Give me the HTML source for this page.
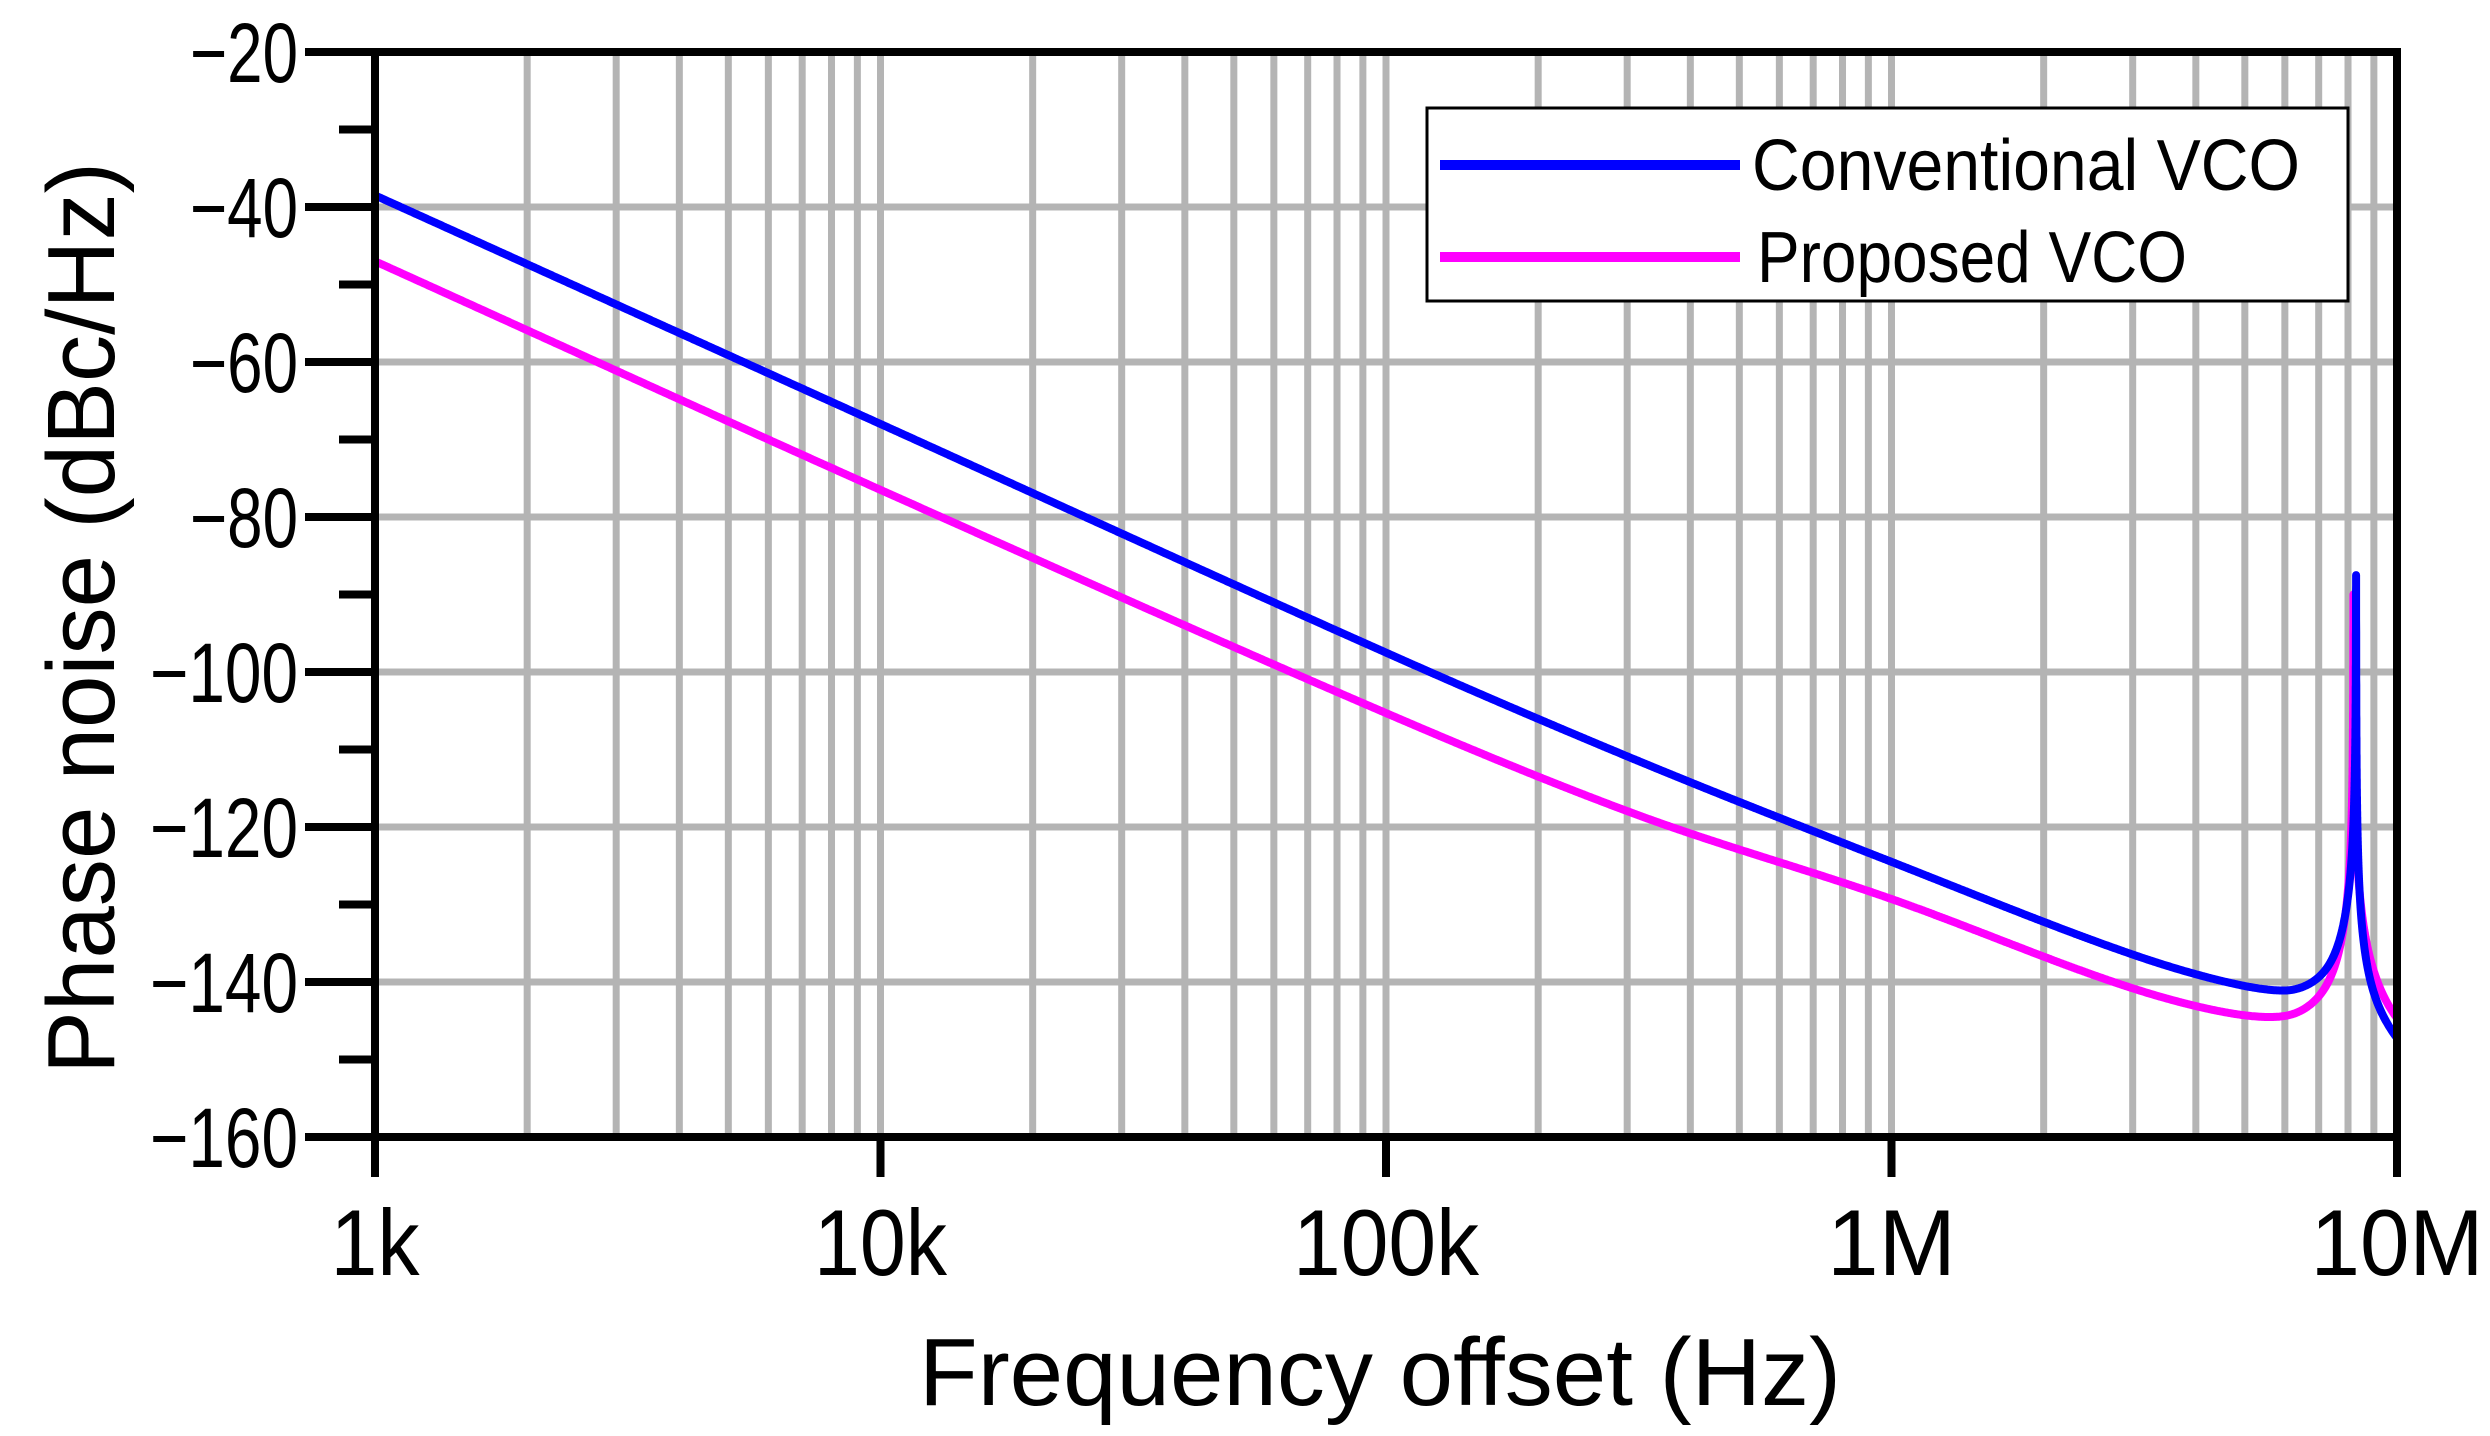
<!DOCTYPE html>
<html><head><meta charset="utf-8"><style>html,body{margin:0;padding:0;background:#fff}svg{display:block}</style></head>
<body>
<svg id="s" width="2490" height="1436" xmlns="http://www.w3.org/2000/svg" font-family="Liberation Sans, sans-serif">
<g id="grid" stroke="#b4b4b4" stroke-width="7"></g>
<g id="curves" fill="none" stroke-width="8" stroke-linejoin="round"></g>
<g id="axes" stroke="#000" stroke-width="8" fill="none"></g>
<g id="labels" fill="#000"></g>
<rect x="1427" y="108" width="921" height="193" fill="#fff" stroke="#000" stroke-width="3"/>
<line x1="1440" y1="165" x2="1740" y2="165" stroke="#0000ff" stroke-width="10"/>
<line x1="1440" y1="257" x2="1740" y2="257" stroke="#ff00ff" stroke-width="10"/>
<text x="1752" y="190" font-size="72" textLength="548" lengthAdjust="spacingAndGlyphs">Conventional VCO</text>
<text x="1757" y="282" font-size="72" textLength="430" lengthAdjust="spacingAndGlyphs">Proposed VCO</text>
<text x="1380" y="1405" font-size="96" text-anchor="middle" textLength="922" lengthAdjust="spacingAndGlyphs">Frequency offset (Hz)</text>
<text transform="translate(114,618) rotate(-90)" font-size="96" text-anchor="middle" textLength="912" lengthAdjust="spacingAndGlyphs">Phase noise (dBc/Hz)</text>
</svg>
<script>
var L=375,R=2397,T=52,B=1137,NS="http://www.w3.org/2000/svg";
function X(f){return L+(Math.log10(f)-3)*(R-L)/4}
function Y(d){return T+(-20-d)*(B-T)/140}
function el(g,t,a,txt){var e=document.createElementNS(NS,t);for(var k in a)e.setAttribute(k,a[k]);if(txt)e.textContent=txt;document.getElementById(g).appendChild(e);return e}
for(var d=3;d<7;d++)for(var m=1;m<10;m++){var f=m*Math.pow(10,d);if(f<=1000)continue;var x=X(f);el("grid","line",{x1:x,y1:T,x2:x,y2:B})}
for(var v=-40;v>=-140;v-=20)el("grid","line",{x1:L,y1:Y(v),x2:R,y2:Y(v)});
function interp(p,u){var n=p.length;for(var i=0;i<n-1;i++){if(u<=p[i+1][0]||i==n-2){
 var p0=p[Math.max(i-1,0)],p1=p[i],p2=p[i+1],p3=p[Math.min(i+2,n-1)];
 var h=p2[0]-p1[0],t=(u-p1[0])/h;
 var m1=(p2[1]-p0[1])/(p2[0]-p0[0])*h,m2=(p3[1]-p1[1])/(p3[0]-p1[0])*h;
 var t2=t*t,t3=t2*t;
 return (2*t3-3*t2+1)*p1[1]+(t3-2*t2+t)*m1+(-2*t3+3*t2)*p2[1]+(t3-t2)*m2;}}}
function curve(pts,pk,f0,w1,w2,col){
 var fs=[];for(var i=0;i<=1500;i++)fs.push(Math.pow(10,3+4*i/1500));
 for(var f=7.0e6;f<=9.5e6;f+=500)fs.push(f);
 fs.sort(function(a,b){return a-b});
 var s="";fs.forEach(function(f){var u=Math.log10(f)-3;var base=interp(pts,u);
  var w=f<f0?w1:w2;var lor=Math.pow(10,pk/10)/(1+Math.pow((f-f0)/w,2));
  var db=10*Math.log10(Math.pow(10,base/10)+lor);s+=X(f).toFixed(1)+","+Y(db).toFixed(1)+" "});
 el("curves","polyline",{points:s,stroke:col});}
curve([[0,-47],[1,-76.5],[2,-105.3],[2.5,-118.5],[3,-129.3],[3.48,-141],[3.78,-146.3],[3.9,-147],[4,-150]],-90,8.2e6,2500,2800,"#ff00ff");
curve([[0,-38.5],[1,-68],[2,-97.5],[2.5,-111.5],[3,-124.5],[3.48,-136.6],[3.78,-142.5],[3.9,-144],[4,-150]],-87.5,8.3e6,2500,1200,"#0000ff");
el("axes","line",{x1:L,y1:T-4,x2:L,y2:B+4});el("axes","line",{x1:L-4,y1:T,x2:R+4,y2:T});
el("axes","line",{x1:L-4,y1:B,x2:R+4,y2:B});el("axes","line",{x1:R,y1:T-4,x2:R,y2:B+4});
for(var v=-20;v>=-160;v-=10){var maj=v%20==0;el("axes","line",{x1:L-(maj?70:36),y1:Y(v),x2:L,y2:Y(v)});
 if(maj)el("labels","text",{x:298,y:Y(v)+30,"text-anchor":"end","font-size":84,textLength:(v<=-100?148:108),lengthAdjust:"spacingAndGlyphs"},"\u2212"+(-v));}
var xl=["1k","10k","100k","1M","10M"],xw=[89,133,186,129,173];
for(var i=0;i<5;i++){var x=X(Math.pow(10,3+i));el("axes","line",{x1:x,y1:B,x2:x,y2:B+40});
 el("labels","text",{x:x,y:1275,"text-anchor":"middle","font-size":94,textLength:xw[i],lengthAdjust:"spacingAndGlyphs"},xl[i]);}
</script>
</body></html>
